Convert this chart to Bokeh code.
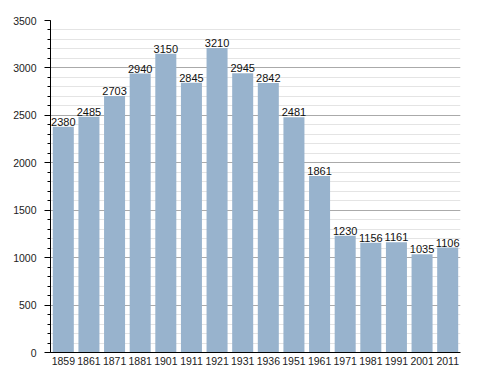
from bokeh.plotting import figure
from bokeh.models import ColumnDataSource, LabelSet, SingleIntervalTicker, Range1d
from bokeh.core.properties import value
from bokeh.embed import file_html
from bokeh.resources import INLINE

years = ["1859", "1861", "1871", "1881", "1901", "1911", "1921", "1931",
         "1936", "1951", "1961", "1971", "1981", "1991", "2001", "2011"]
population = [2380, 2485, 2703, 2940, 3150, 2845, 3210, 2945,
              2842, 2481, 1861, 1230, 1156, 1161, 1035, 1106]

src = ColumnDataSource(dict(year=years, pop=population,
                            lab=[str(v) for v in population]))

FONT = "Liberation Sans"

p = figure(x_range=years, y_range=Range1d(0, 3500), width=480, height=367,
           output_backend="svg", toolbar_location=None,
           min_border_left=50, min_border_right=20, min_border_top=20,
           min_border_bottom=0)
p.x_range.range_padding = 0
p.outline_line_color = None
p.background_fill_color = "white"
p.border_fill_color = "white"

p.vbar(x="year", top="pop", width=0.82, source=src,
       fill_color="#98b3cd", line_color=None)

labels = LabelSet(x="year", y="pop", text="lab", source=src,
                  text_align="center", text_baseline="bottom", y_offset=1,
                  text_font_size="11px", text_color="#111111",
                  text_font=value(FONT))
p.add_layout(labels)

p.xgrid.grid_line_color = None
p.ygrid.grid_line_color = "#aaaaaa"
p.ygrid.minor_grid_line_color = "#e4e4e4"
p.ygrid.level = "underlay"

p.yaxis.ticker = SingleIntervalTicker(interval=500, num_minor_ticks=5)
p.yaxis.major_tick_out = 6
p.yaxis.major_tick_in = 0
p.yaxis.minor_tick_out = 3
p.yaxis.minor_tick_in = 0
p.yaxis.major_label_standoff = 8
p.yaxis.axis_line_color = "black"
p.yaxis.major_tick_line_color = "black"
p.yaxis.minor_tick_line_color = "black"

p.xaxis.major_tick_out = 0
p.xaxis.major_tick_in = 0
p.xaxis.major_label_standoff = 4
p.xaxis.axis_line_color = "black"

for ax in (p.xaxis, p.yaxis):
    ax.major_label_text_font = FONT
    ax.major_label_text_font_size = "10.5px"
    ax.major_label_text_color = "#222222"

open("out.html", "w").write(file_html(p, INLINE))
